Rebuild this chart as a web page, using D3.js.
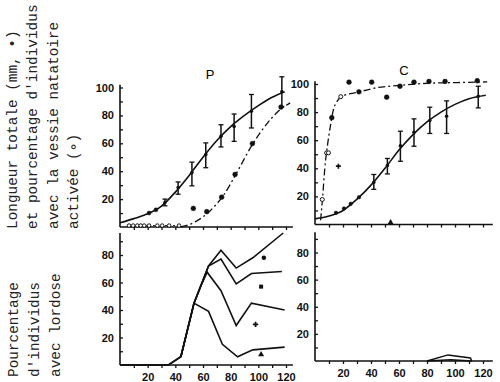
<!DOCTYPE html>
<html>
  <head>
    <meta charset="UTF-8" />
    <script src="https://cdnjs.cloudflare.com/ajax/libs/d3/7.8.5/d3.min.js"></script>
    <style>
      body { margin: 0; background: #fff; }
      .tick text { font-family: "Liberation Sans", sans-serif; font-weight: bold; font-size: 11px; fill: #111; }
      .ylab { font-family: "Liberation Mono", monospace; font-size: 14.4px; fill: #222; }
    </style>
  </head>
  <body>
    <svg id="chart" width="500" height="382"></svg>
    <script>
      // tick labels
      const xLabels = [20, 40, 60, 80, 100, 120];
      const yLabelsTop = [20, 40, 60, 80, 100];
      const yLabelsBottom = [20, 40, 60, 80];

      // P, length (mm): smooth curve, dots, points with error bars [x, mean, low, high]
      const pLenCurve = [[0, 3], [10, 6], [20, 9.5], [30, 15], [40, 25], [50, 37], [60, 50], [70, 62], [80, 72], [90, 80], [100, 87], [110, 93], [119, 97]];
      const pLenDots = [[21, 10], [26, 12.3]];
      const pLenBars = [[32.5, 17.6, 15.2, 20], [42, 28.3, 23.5, 32.3], [52, 39, 29.5, 46.5], [62, 52, 42.5, 60.3], [73, 65, 57.4, 73.3], [82.5, 72, 61.4, 81], [95, 83, 71, 95], [117, 97, 86.3, 107.7]];

      // P, % swim bladder activated
      const pSwimCurve = [[44, 0], [55, 4], [65, 11.5], [75, 23], [85, 40], [95, 58], [105, 72.5], [115, 83.5], [123, 89]];
      const pSwimDots = [[53, 13.3], [62.7, 11], [73.5, 21.4], [83.2, 37.7], [95.7, 59.8], [116.4, 86]];
      const pSwimOpen = [[6.5, 1], [9.5, 1], [12.5, 1], [15, 1], [17.5, 1], [21, 1], [27, 1], [30.5, 1], [35.5, 1], [42.7, 1]];

      // C, length (mm)
      const cLenCurve = [[0, 4], [10, 6], [20, 10], [30, 18], [40, 28], [50, 40], [60, 53], [70, 64], [80, 73], [90, 80], [100, 85.5], [110, 89.5], [122, 92]];
      const cLenDots = [[15, 8.3], [20.7, 11.4], [25.5, 14.7], [31.4, 19.4]];
      const cLenBars = [[42, 30, 25, 35.6], [51.7, 42, 36, 47], [61, 56, 45, 66.4], [70.7, 65.6, 55.7, 75.2], [82, 74, 64.8, 83.5], [94, 77, 64.8, 88], [116.6, 91.3, 83, 98.4]];

      // C, % swim bladder activated
      const cSwimCurve = [[4, 3], [5.5, 20], [7, 40], [9, 57], [11, 70], [13, 81], [16, 88], [20, 91.5], [30, 94], [45, 97.5], [60, 99], [80, 100.5], [100, 101], [123, 101.5]];
      const cSwimDots = [[12, 76], [24.3, 101.3], [31.4, 94.4], [40.5, 101.3], [51.2, 90.6], [60.7, 98.4], [70.7, 101.3], [81.4, 101.8], [92.9, 101.8], [115.9, 102.3]];
      const cSwimOpen = [[5.2, 17.8], [8.3, 51], [9.6, 51], [18.4, 91]];
      const cSwimCross = [[16.7, 41.5]];
      const cTopMark = [[54, 1.5]];

      // lordosis, P: four series sharing the rise
      const pLordRise = [[0, 0], [35, 0], [44, 6], [53.5, 45]];
      const pLordA = [[64, 72], [73, 83.5], [84, 70.5], [96, 78], [118, 96]];
      const pLordB = [[64, 72], [73, 77], [84, 59], [95, 66.5], [117, 68]];
      const pLordC = [[63, 67.5], [73, 54], [84, 28.7], [95, 45], [119, 40]];
      const pLordD = [[64, 39], [74, 15], [85, 6], [96, 11], [119, 13]];
      const pLordMarks = [[104, 78, "circle"], [102, 57, "square"], [98, 29.5, "cross"], [102, 7.6, "triangle"]];

      // lordosis, C
      const cLordUpper = [[80, 0], [95, 4.5], [111, 2.2], [112, 0]];
      const cLordLower = [[80, 0], [97, 1], [112, 0]];

      const svg = d3.select("#chart");

      const pX = d3.scaleLinear().domain([0, 120]).range([120, 286]);
      const cX = d3.scaleLinear().domain([0, 120]).range([315, 483]);
      const pYTop = d3.scaleLinear().domain([0, 100]).range([227, 87.5]);
      const cYTop = d3.scaleLinear().domain([0, 100]).range([224.5, 84]);
      const pYBot = d3.scaleLinear().domain([0, 80]).range([365, 255]);
      const cYBot = d3.scaleLinear().domain([0, 80]).range([361, 252.5]);

      function drawAxes(x, y, yMax, xMax, yLabels, showX) {
        const g = svg.append("g");
        g.append("line")
          .attr("x1", x(0)).attr("x2", x(0))
          .attr("y1", y(0)).attr("y2", y(yMax))
          .attr("stroke", "#111").attr("stroke-width", 1.6);
        g.append("line")
          .attr("x1", x(0)).attr("x2", x(xMax))
          .attr("y1", y(0)).attr("y2", y(0))
          .attr("stroke", "#111").attr("stroke-width", 1.6);

        const yAxis = d3.axisLeft(y)
          .tickValues(d3.range(10, yMax, 10))
          .tickSizeInner(-3).tickSizeOuter(0).tickPadding(6)
          .tickFormat(d => (yLabels.includes(d) ? d : ""));
        g.append("g").attr("transform", `translate(${x(0)},0)`).call(yAxis)
          .call(s => s.select(".domain").remove())
          .call(s => s.selectAll(".tick line").attr("stroke", "#111").attr("stroke-width", 1.3));

        const xAxis = d3.axisBottom(x)
          .tickValues(d3.range(10, xMax, 10))
          .tickSizeInner(showX ? 3 : 3).tickSizeOuter(0).tickPadding(5)
          .tickFormat(d => (showX && xLabels.includes(d) ? d : ""));
        g.append("g").attr("transform", `translate(0,${y(0)})`).call(xAxis)
          .call(s => s.select(".domain").remove())
          .call(s => s.selectAll(".tick line").attr("stroke", "#111").attr("stroke-width", 1.3));
      }

      drawAxes(pX, pYTop, 102, 125, yLabelsTop, false);
      drawAxes(cX, cYTop, 102, 127, yLabelsTop, false);
      drawAxes(pX, pYBot, 96, 125, yLabelsBottom, true);
      drawAxes(cX, cYBot, 95, 127, yLabelsBottom, true);

      function line(x, y, data, curve, dash, width) {
        svg.append("path")
          .datum(data)
          .attr("d", d3.line().x(d => x(d[0])).y(d => y(d[1])).curve(curve))
          .attr("fill", "none")
          .attr("stroke", "#111")
          .attr("stroke-width", width || 1.5)
          .attr("stroke-dasharray", dash || null);
      }

      function dots(x, y, data, r, open) {
        svg.append("g").selectAll("circle")
          .data(data)
          .join("circle")
          .attr("cx", d => x(d[0]))
          .attr("cy", d => y(d[1]))
          .attr("r", r)
          .attr("fill", open ? "#fff" : "#111")
          .attr("stroke", "#111")
          .attr("stroke-width", open ? 1 : 0.5);
      }

      function bars(x, y, data) {
        const g = svg.append("g").selectAll("g").data(data).join("g");
        g.append("line")
          .attr("x1", d => x(d[0])).attr("x2", d => x(d[0]))
          .attr("y1", d => y(d[2])).attr("y2", d => y(d[3]))
          .attr("stroke", "#111").attr("stroke-width", 1.5);
        g.selectAll(".cap")
          .data(d => [[d[0], d[2]], [d[0], d[3]]])
          .join("line")
          .attr("x1", d => x(d[0]) - 2.5).attr("x2", d => x(d[0]) + 2.5)
          .attr("y1", d => y(d[1])).attr("y2", d => y(d[1]))
          .attr("stroke", "#111").attr("stroke-width", 1.3);
        g.append("circle")
          .attr("cx", d => x(d[0])).attr("cy", d => y(d[1]))
          .attr("r", 1.8).attr("fill", "#111");
      }

      // P, top
      line(pX, pYTop, pLenCurve, d3.curveMonotoneX, null, 1.6);
      dots(pX, pYTop, pLenDots, 2);
      bars(pX, pYTop, pLenBars);
      line(pX, pYTop, pSwimCurve, d3.curveMonotoneX, "7,3,2,3", 1.3);
      dots(pX, pYTop, pSwimDots, 2.4);
      line(pX, pYTop, pSwimOpen, d3.curveLinear, "2,2", 1);
      dots(pX, pYTop, pSwimOpen, 1.8, true);

      // C, top
      line(cX, cYTop, cLenCurve, d3.curveMonotoneX, null, 1.6);
      dots(cX, cYTop, cLenDots, 1.8);
      bars(cX, cYTop, cLenBars);
      line(cX, cYTop, cSwimCurve, d3.curveMonotoneX, "7,3,2,3", 1.3);
      dots(cX, cYTop, cSwimDots, 2.4);
      dots(cX, cYTop, cSwimOpen, 2, true);
      svg.append("g").selectAll("path")
        .data(cSwimCross)
        .join("path")
        .attr("transform", d => `translate(${cX(d[0])},${cYTop(d[1])})`)
        .attr("d", d3.symbol(d3.symbolCross, 14))
        .attr("fill", "#111");
      svg.append("g").selectAll("path")
        .data(cTopMark)
        .join("path")
        .attr("transform", d => `translate(${cX(d[0])},${cYTop(d[1])})`)
        .attr("d", d3.symbol(d3.symbolTriangle, 14))
        .attr("fill", "#111");

      // P, lordosis
      [pLordA, pLordB].forEach(s => line(pX, pYBot, pLordRise.concat(s), d3.curveLinear, null, 1.6));
      line(pX, pYBot, pLordRise.slice(2).concat([[58.5, 57.5]], pLordC), d3.curveLinear, null, 1.6);
      line(pX, pYBot, pLordRise.slice(2).concat(pLordD), d3.curveLinear, null, 1.6);
      const markShapes = { circle: d3.symbolCircle, square: d3.symbolSquare, cross: d3.symbolCross, triangle: d3.symbolTriangle };
      svg.append("g").selectAll("path")
        .data(pLordMarks)
        .join("path")
        .attr("transform", d => `translate(${pX(d[0])},${pYBot(d[1])})`)
        .attr("d", d => d3.symbol(markShapes[d[2]], 16)())
        .attr("fill", "#111");

      // C, lordosis
      line(cX, cYBot, cLordUpper, d3.curveLinear, null, 1.5);
      line(cX, cYBot, cLordLower, d3.curveLinear, null, 1.5);

      // panel titles
      svg.append("text").attr("x", 210).attr("y", 79).attr("text-anchor", "middle")
        .style("font-family", "Liberation Sans, sans-serif").style("font-size", "13px").text("P");
      svg.append("text").attr("x", 404).attr("y", 75).attr("text-anchor", "middle")
        .style("font-family", "Liberation Sans, sans-serif").style("font-size", "13px").text("C");

      // rotated y titles
      const topTitle = ["Longueur totale (mm, •)", "et pourcentage d'individus", "avec la vessie natatoire", "activée (∘)"];
      const bottomTitle = ["Pourcentage", "d'individus", "avec lordose"];
      topTitle.forEach((t, i) => {
        svg.append("text").attr("class", "ylab")
          .attr("transform", `translate(${17 + i * 20.3},229) rotate(-90)`)
          .text(t);
      });
      bottomTitle.forEach((t, i) => {
        svg.append("text").attr("class", "ylab")
          .attr("transform", `translate(${18 + i * 21},377) rotate(-90)`)
          .text(t);
      });
    </script>
  </body>
</html>
